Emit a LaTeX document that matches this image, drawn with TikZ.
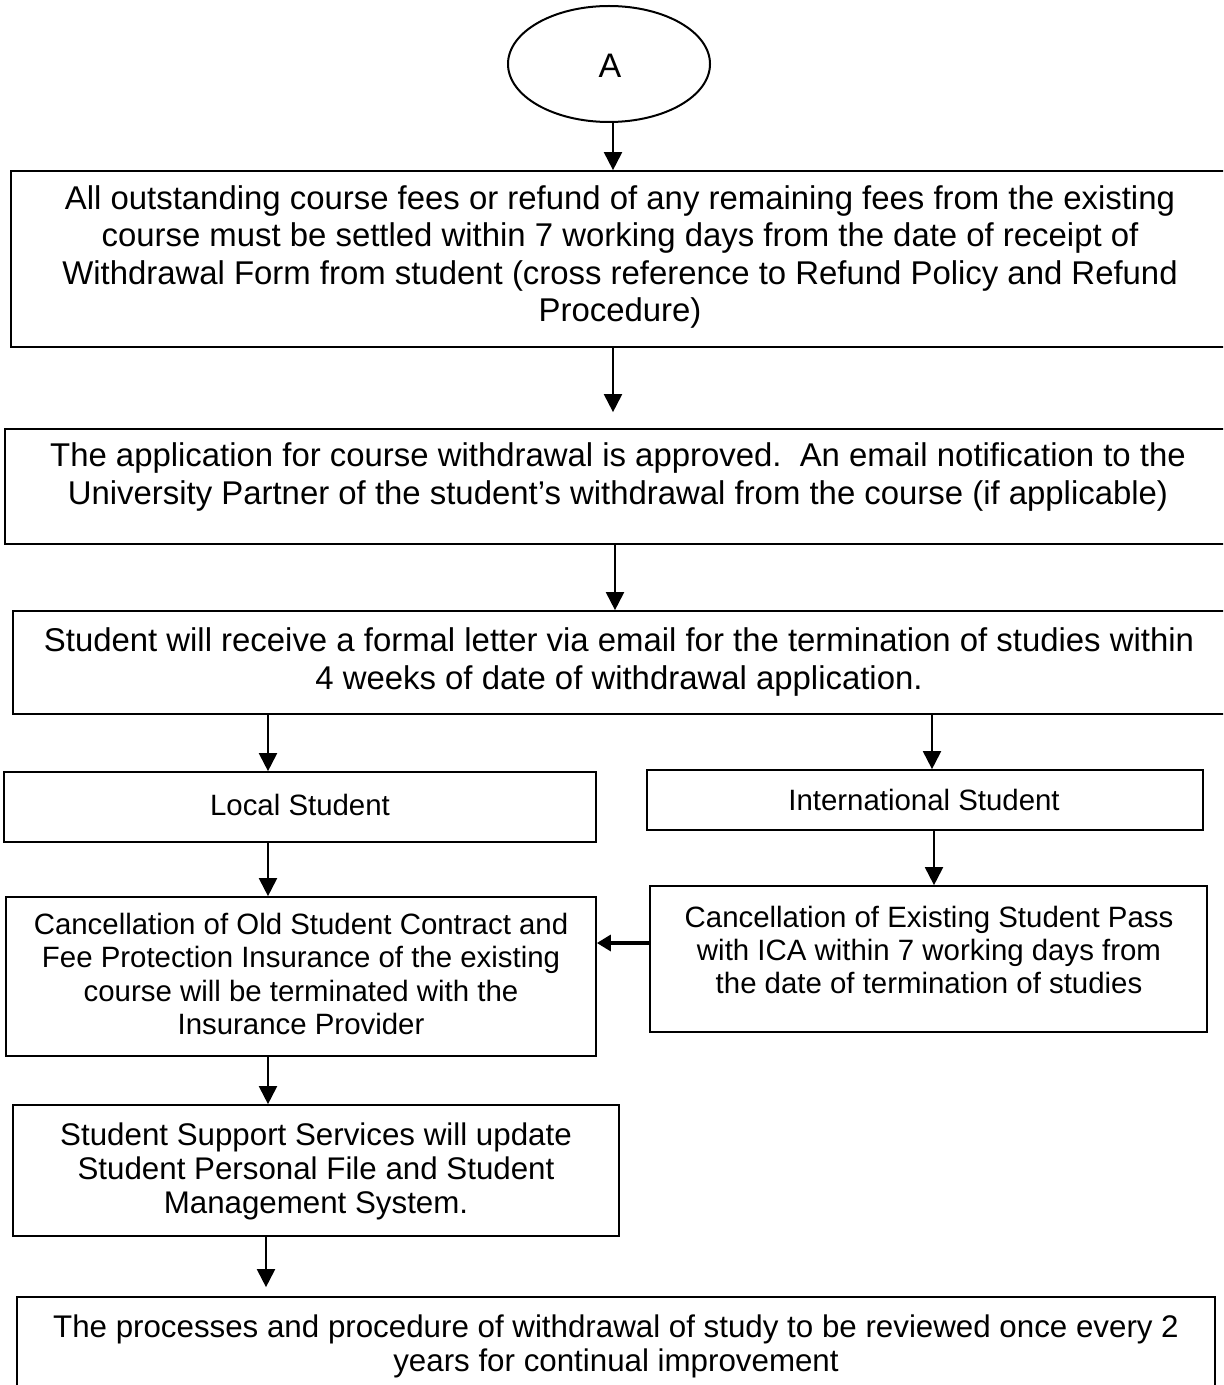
\documentclass[tikz,border=0pt]{standalone}
\usepackage{fontspec}
\setmainfont{Liberation Sans}
\usetikzlibrary{arrows.meta,shapes.geometric}
\tikzset{
  box/.style={draw=black, line width=0.85pt, rectangle, inner sep=0pt},
  oval/.style={draw=black, line width=1pt, ellipse, inner sep=0pt, minimum width=101pt, minimum height=58pt},
  txt/.style={align=center, inner sep=0pt, font=\fontsize{14.7pt}{18.5pt}\selectfont},
  arr/.style={line width=1pt, -{Triangle[length=9pt,width=9pt]}},
  thickarr/.style={line width=1.6pt, -{Triangle[length=7pt,width=8pt]}}
}
\begin{document}
\begin{tikzpicture}[x=0.5pt,y=-0.5pt]
\useasboundingbox (0,0) rectangle (1223,1385);
\begin{scope}
\clip (0,0) rectangle (1223,1385);
% nodes
\node[oval] (e) at (609,64) {};
\node[txt, font=\fontsize{17pt}{20pt}\selectfont] (ta) at (610,66) {A};

\node[box, minimum width=610.5pt, minimum height=88pt] (b1) at (621.5,259) {};
\node[txt, font=\fontsize{16.45pt}{18.7pt}\selectfont] (t1) at (620,257) {All outstanding course fees or refund of any remaining fees from the existing\\course must be settled within 7 working days from the date of receipt of\\Withdrawal Form from student (cross reference to Refund Policy and Refund\\Procedure)};

\node[box, minimum width=613.5pt, minimum height=57.5pt] (b2) at (618.5,486.5) {};
\node[txt, font=\fontsize{16.45pt}{19pt}\selectfont] (t2) at (618,477) {The application for course withdrawal is approved.\ \ An email notification to the\\University Partner of the student’s withdrawal from the course (if applicable)};

\node[box, minimum width=611pt, minimum height=51.5pt] (b3) at (624,662.5) {};
\node[txt, font=\fontsize{16.45pt}{18.7pt}\selectfont] (t3) at (619,662) {Student will receive a formal letter via email for the termination of studies within\\4 weeks of date of withdrawal application.};

\node[box, minimum width=296pt, minimum height=35pt] (l) at (300,807) {};
\node[txt] (tl) at (300,805) {Local Student};

\node[box, minimum width=278pt, minimum height=30pt] (i) at (925,800) {};
\node[txt] (ti) at (924,800) {International Student};

\node[box, minimum width=295pt, minimum height=79.5pt] (co) at (301,976.5) {};
\node[txt, font=\fontsize{14.7pt}{16.75pt}\selectfont] (tco) at (301,974) {Cancellation of Old Student Contract and\\Fee Protection Insurance of the existing\\course will be terminated with the\\Insurance Provider};

\node[box, minimum width=278.5pt, minimum height=73pt] (cp) at (928.5,959) {};
\node[txt, font=\fontsize{14.7pt}{16.5pt}\selectfont] (tcp) at (929,950) {Cancellation of Existing Student Pass\\with ICA within 7 working days from\\the date of termination of studies};

\node[box, minimum width=303pt, minimum height=65.5pt] (s) at (316,1170.5) {};
\node[txt, font=\fontsize{15.65pt}{17pt}\selectfont] (ts) at (316,1171) {Student Support Services will update\\Student Personal File and Student\\Management System.};

\node[box, minimum width=599pt, minimum height=53pt] (f) at (616,1350) {};
\node[txt, font=\fontsize{15.65pt}{17pt}\selectfont] (tf) at (616,1346) {The processes and procedure of withdrawal of study to be reviewed once every 2\\years for continual improvement};

% connectors
\draw[arr] ([xshift=2pt]e.south) -- ([xshift=-4.25pt]b1.north);
\draw[arr, shorten >=8pt] ([xshift=-4.25pt]b1.south) -- ([xshift=-2.75pt]b2.north);
\draw[arr] ([xshift=-1.75pt]b2.south) -- ([xshift=-4.5pt]b3.north);
\draw[arr] ([xshift=-178pt]b3.south) -- ([xshift=-16pt]l.north);
\draw[arr] ([xshift=154pt]b3.south) -- ([xshift=3.5pt]i.north);
\draw[arr] ([xshift=-16pt]l.south) -- ([xshift=-16.5pt]co.north);
\draw[arr] ([xshift=4.5pt]i.south) -- ([xshift=2.75pt]cp.north);
\draw[thickarr] ([yshift=8pt]cp.west) -- ([yshift=16.75pt]co.east);
\draw[arr] ([xshift=-16.5pt]co.south) -- ([xshift=-24pt]s.north);
\draw[arr, shorten >=4.5pt] ([xshift=-25pt]s.south) -- ([xshift=-175pt]f.north);
\end{scope}
\end{tikzpicture}
\end{document}
